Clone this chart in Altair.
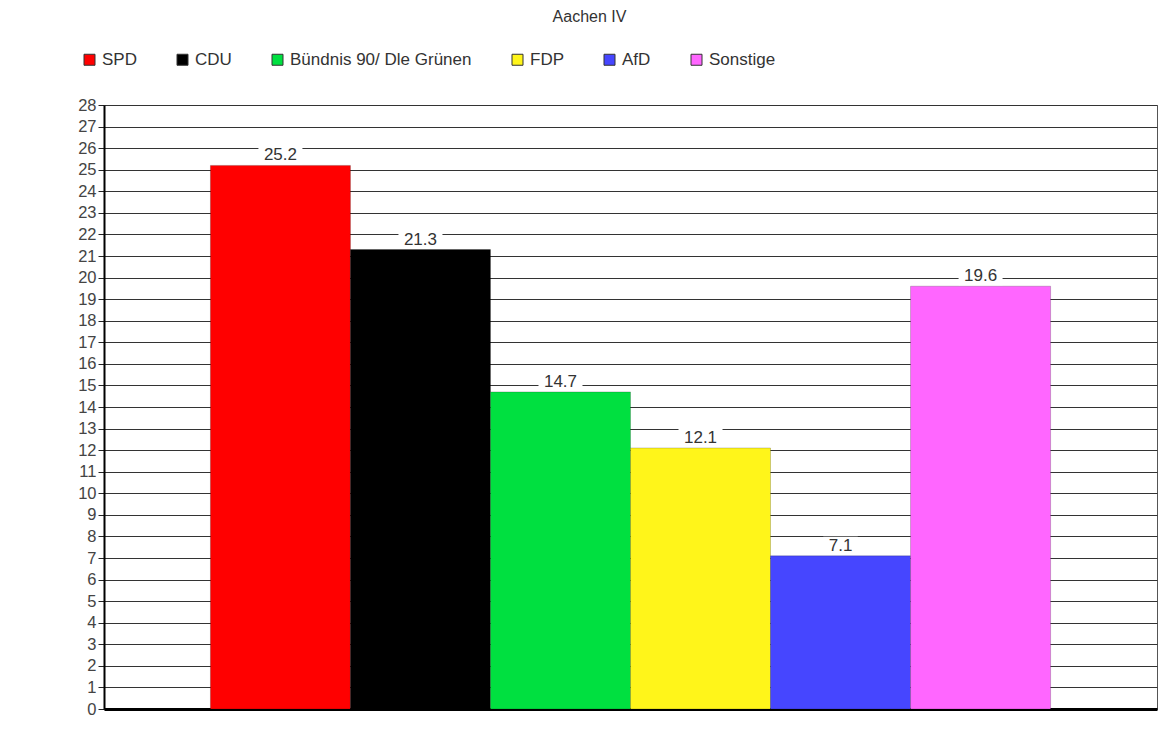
import altair as alt
import pandas as pd

parties = ["SPD", "CDU", "Bündnis 90/ Dle Grünen", "FDP", "AfD", "Sonstige"]
values = [25.2, 21.3, 14.7, 12.1, 7.1, 19.6]
colors = ["#ff0000", "#000000", "#00e040", "#fff51a", "#4646ff", "#ff66ff"]
y_ticks = list(range(0, 29))

df = pd.DataFrame({"party": parties, "value": values})
df["label"] = df["value"].map(lambda v: f"{v:.1f}")

font = "Liberation Sans"

x_enc = alt.X("party:N", sort=parties,
              scale=alt.Scale(paddingInner=0, paddingOuter=0.76),
              axis=alt.Axis(labels=False, ticks=False, title=None,
                            domainColor="black", domainWidth=3, grid=False))
y_enc = alt.Y("value:Q", scale=alt.Scale(domain=[0, 28], nice=False),
              axis=alt.Axis(values=y_ticks, title=None, labelFontSize=16.5,
                            labelColor="#444", labelFont=font, tickColor="#222",
                            tickSize=6, labelPadding=2, labelOverlap=False,
                            labelBound=False, labelFlush=False,
                            domainColor="black",
                            domainWidth=2, grid=True, gridColor="#333",
                            gridWidth=1, gridOpacity=1))

base = alt.Chart(df)

bars = base.mark_bar(stroke="#00000033", strokeWidth=1).encode(
    x=x_enc,
    y=y_enc,
    color=alt.Color("party:N", sort=parties,
                    scale=alt.Scale(domain=parties, range=colors),
                    legend=alt.Legend(title=None, orient="none", direction="horizontal",
                                      legendX=-23, legendY=-54, symbolType="square",
                                      symbolSize=121, symbolStrokeColor="#333",
                                      symbolStrokeWidth=1, labelFontSize=17,
                                      labelFont=font, labelColor="#333",
                                      labelOffset=4, columnPadding=37,
                                      labelLimit=400, columns=6)),
)

bg = base.transform_calculate(w="length(datum.label) * 9.5 + 6").mark_tick(
    color="white", thickness=18, opacity=1, yOffset=-10
).encode(
    x=x_enc,
    y=y_enc,
    size=alt.Size("w:Q", scale=None),
)

text = base.mark_text(dy=-10, fontSize=17, font=font, color="#333").encode(
    x=x_enc,
    y=y_enc,
    text="label:N",
)

chart = alt.layer(bars, bg, text).properties(
    width=1053,
    height=604,
    title=alt.TitleParams("Aachen IV", anchor="middle", frame="group", dx=-41,
                          fontSize=16, font=font, fontWeight="normal",
                          color="#333", offset=26),
    autosize=alt.AutoSizeParams(type="none"),
    padding={"left": 96, "top": 97, "right": 9, "bottom": 12},
).configure_view(stroke="#555", strokeWidth=1)

chart.save("out.html", embed_options={"renderer": "svg", "actions": False})
